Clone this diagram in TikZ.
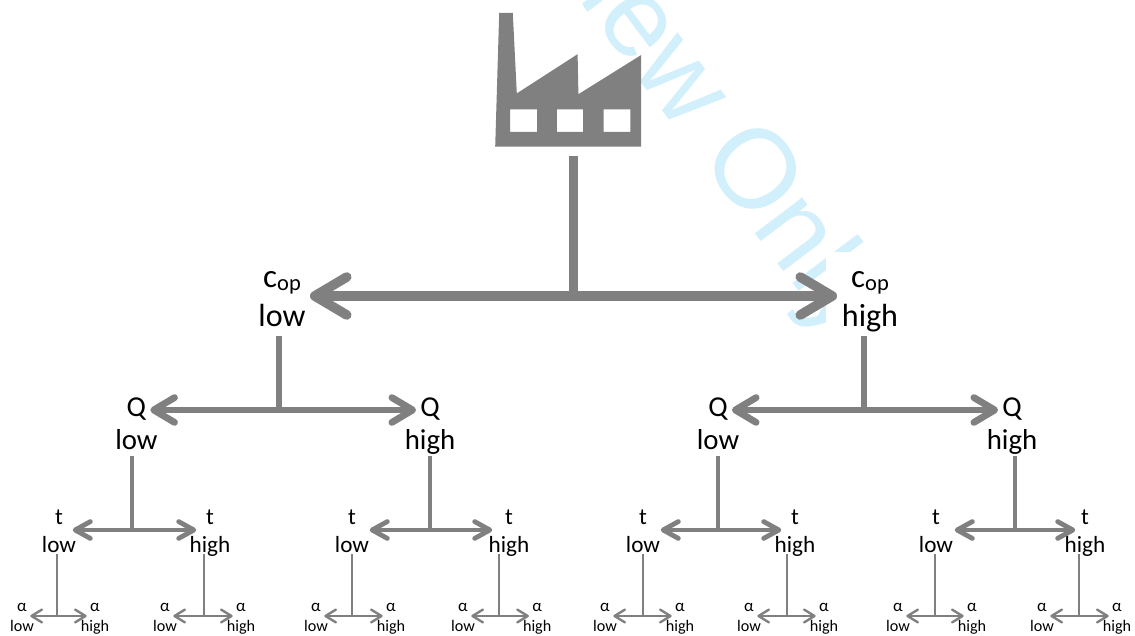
\documentclass[tikz,border=0pt]{standalone}
\usepackage{fontspec}
\setmainfont{Carlito}
\newfontfamily\markfont{Liberation Sans}
\usetikzlibrary{arrows.meta,positioning}
\definecolor{ink}{HTML}{808080}
\definecolor{stamp}{HTML}{D2EFFC}
\tikzset{
  every node/.style={text=black,inner ysep=0pt,outer sep=0pt,align=center},
  arrowa/.style={draw=ink,line width=2.4mm,-{Straight Barb[round,length=8mm,width=9.5mm]}},
  arrowb/.style={draw=ink,line width=1.7mm,-{Straight Barb[round,length=5.2mm,width=6.2mm]}},
  arrowc/.style={draw=ink,line width=1.2mm,-{Straight Barb[round,length=3.8mm,width=4.2mm]}},
  arrowd/.style={draw=ink,line width=.6mm,-{Straight Barb[round,length=2.6mm,width=3.2mm]}},
  stema/.style={draw=ink,line width=2.4mm},
  stemb/.style={draw=ink,line width=1.4mm},
  stemc/.style={draw=ink,line width=1.1mm},
  stemd/.style={draw=ink,line width=.5mm},
  copname/.style={font=\fontsize{23.5}{24}\selectfont,inner xsep=6.5pt,text height=12pt,text depth=7pt},
  copval/.style={font=\fontsize{22.8}{23}\selectfont,below=2mm of #1,text height=15pt,text depth=7pt},
  qname/.style={font=\fontsize{20.5}{21}\selectfont,inner xsep=3pt,text height=13pt,text depth=1.4pt},
  qval/.style={font=\fontsize{20.5}{21}\selectfont,below=3.2mm of #1,text height=13.5pt,text depth=4.3pt},
  tname/.style={font=\fontsize{16.5}{17}\selectfont,inner xsep=7pt,text height=10.6pt,text depth=0pt},
  tval/.style={font=\fontsize{16.5}{17}\selectfont,below=3.2mm of #1,text height=11.3pt,text depth=1pt},
  aname/.style={font=\fontsize{12}{12}\selectfont,inner xsep=2.5pt,text height=5.5pt,text depth=0pt},
  aval/.style={font=\fontsize{11.5}{12}\selectfont,below=2mm of #1,text height=8pt,text depth=0pt},
}
\newcommand{\cop}{c\raisebox{-2.5pt}{\fontsize{16}{16}\selectfont op}}

\begin{document}
\begin{tikzpicture}[x=1cm,y=1cm]
  \useasboundingbox (0,0) rectangle (28.375,15.875);
  % stamp behind everything
  \begin{scope}
    \clip (14.5,15.875) -- (17.5,15.875) -- (22,10.125) -- (21.7,9.575) -- (20.625,9.575) -- (20.625,7.5) -- (19.5,7.5) -- cycle;
    \node[rotate=-53,anchor=center,text=stamp,font=\markfont\fontsize{80}{80}\selectfont] (stampmark) at (16.77,14.05) {Review Only};
  \end{scope}

  % factory
  \fill[ink,even odd rule] (12.38,12.21) -- (12.48,15.55) -- (12.82,15.55) -- (12.92,13.54) -- (14.44,14.52) -- (14.46,13.52) -- (16.03,14.5) -- (16.03,12.21) -- cycle
    (12.75,12.58) rectangle (13.43,13.14) (13.92,12.58) rectangle (14.58,13.14) (15.09,12.58) rectangle (15.76,13.14);
  \coordinate (factory) at (14.34,11.975);

  % cost level
  \node[copname] (cl) at (7.05,8.78) {\cop};
  \node[copval=cl] (clv) {low};
  \node[copname] (ch) at (21.75,8.78) {\cop};
  \node[copval=ch] (chv) {high};
  \coordinate (jc) at (14.34,8.475);
  \draw[stema] (factory) -- ([yshift=-1.2mm]jc);
  \draw[arrowa] (jc) -- (cl.east |- jc);
  \draw[arrowa,shorten >=1.25mm] (jc) -- (ch.west |- jc);

  % Q level
  \node[qname] (ql) at (3.41,5.675) {Q};
  \node[qval=ql] (qlv) {low};
  \node[qname] (qh) at (10.75,5.675) {Q};
  \node[qval=qh] (qhv) {high};
  \node[qname] (rl) at (17.95,5.675) {Q};
  \node[qval=rl] (rlv) {low};
  \node[qname] (rh) at (25.3,5.675) {Q};
  \node[qval=rh] (rhv) {high};
  \coordinate (jq) at (6.97,5.625);
  \coordinate (jr) at (21.6,5.625);
  \draw[stemb] (jq |- clv.south) -- (jq);
  \draw[arrowb] (jq) -- (ql.east |- jq);
  \draw[arrowb] (jq) -- (qh.west |- jq);
  \draw[stemb] (jr |- chv.south) -- (jr);
  \draw[arrowb] (jr) -- (rl.east |- jr);
  \draw[arrowb] (jr) -- (rh.west |- jr);

  % t level
  \node[tname] (t1) at (1.475,2.96) {t};
  \node[tval=t1] (t1v) {low};
  \node[tname] (t2) at (5.25,2.96) {t};
  \node[tval=t2] (t2v) {high};
  \node[tname] (t3) at (8.8,2.96) {t};
  \node[tval=t3] (t3v) {low};
  \node[tname] (t4) at (12.725,2.96) {t};
  \node[tval=t4] (t4v) {high};
  \node[tname] (t5) at (16.075,2.96) {t};
  \node[tval=t5] (t5v) {low};
  \node[tname] (t6) at (19.875,2.96) {t};
  \node[tval=t6] (t6v) {high};
  \node[tname] (t7) at (23.4,2.96) {t};
  \node[tval=t7] (t7v) {low};
  \node[tname] (t8) at (27.125,2.96) {t};
  \node[tval=t8] (t8v) {high};
  \coordinate (jt1) at (3.3,2.625);
  \coordinate (jt2) at (10.75,2.625);
  \coordinate (jt3) at (17.95,2.625);
  \coordinate (jt4) at (25.375,2.625);
  \draw[stemc] (jt1 |- qlv.south) -- (jt1);
  \draw[arrowc] (jt1) -- (t1.east |- jt1);
  \draw[arrowc] (jt1) -- (t2.west |- jt1);
  \draw[stemc] (jt2 |- qhv.south) -- (jt2);
  \draw[arrowc,shorten >=1mm] (jt2) -- (t3.east |- jt2);
  \draw[arrowc,shorten >=.75mm] (jt2) -- (t4.west |- jt2);
  \draw[stemc] (jt3 |- rlv.south) -- (jt3);
  \draw[arrowc,shorten >=1mm] (jt3) -- (t5.east |- jt3);
  \draw[arrowc] (jt3) -- (t6.west |- jt3);
  \draw[stemc] (jt4 |- rhv.south) -- (jt4);
  \draw[arrowc,shorten >=1.25mm] (jt4) -- (t7.east |- jt4);
  \draw[arrowc,shorten >=-1mm] (jt4) -- (t8.west |- jt4);

  % alpha level
  \node[aname] (a1) at (0.55,0.675) {α};
  \node[aval=a1] (a1v) {low};
  \node[aname] (a2) at (2.375,0.675) {α};
  \node[aval=a2] (a2v) {high};
  \node[aname] (a3) at (4.125,0.675) {α};
  \node[aval=a3] (a3v) {low};
  \node[aname] (a4) at (6.025,0.675) {α};
  \node[aval=a4] (a4v) {high};
  \node[aname] (a5) at (7.9,0.675) {α};
  \node[aval=a5] (a5v) {low};
  \node[aname] (a6) at (9.775,0.675) {α};
  \node[aval=a6] (a6v) {high};
  \node[aname] (a7) at (11.575,0.675) {α};
  \node[aval=a7] (a7v) {low};
  \node[aname] (a8) at (13.43,0.675) {α};
  \node[aval=a8] (a8v) {high};
  \node[aname] (a9) at (15.125,0.675) {α};
  \node[aval=a9] (a9v) {low};
  \node[aname] (a10) at (17,0.675) {α};
  \node[aval=a10] (a10v) {high};
  \node[aname] (a11) at (18.725,0.675) {α};
  \node[aval=a11] (a11v) {low};
  \node[aname] (a12) at (20.6,0.675) {α};
  \node[aval=a12] (a12v) {high};
  \node[aname] (a13) at (22.45,0.675) {α};
  \node[aval=a13] (a13v) {low};
  \node[aname] (a14) at (24.3,0.675) {α};
  \node[aval=a14] (a14v) {high};
  \node[aname] (a15) at (26.05,0.675) {α};
  \node[aval=a15] (a15v) {low};
  \node[aname] (a16) at (27.925,0.675) {α};
  \node[aval=a16] (a16v) {high};
  \coordinate (ja1) at (1.43,0.475);
  \coordinate (ja2) at (5.1,0.475);
  \coordinate (ja3) at (8.8,0.475);
  \coordinate (ja4) at (12.475,0.475);
  \coordinate (ja5) at (16.075,0.475);
  \coordinate (ja6) at (19.675,0.475);
  \coordinate (ja7) at (23.375,0.475);
  \coordinate (ja8) at (26.975,0.475);
  \draw[stemd] (ja1 |- t1v.south) -- (ja1);
  \draw[arrowd] (ja1) -- (a1.east |- ja1);
  \draw[arrowd] (ja1) -- (a2.west |- ja1);
  \draw[stemd] (ja2 |- t2v.south) -- (ja2);
  \draw[arrowd] (ja2) -- (a3.east |- ja2);
  \draw[arrowd] (ja2) -- (a4.west |- ja2);
  \draw[stemd] (ja3 |- t3v.south) -- (ja3);
  \draw[arrowd] (ja3) -- (a5.east |- ja3);
  \draw[arrowd] (ja3) -- (a6.west |- ja3);
  \draw[stemd] (ja4 |- t4v.south) -- (ja4);
  \draw[arrowd] (ja4) -- (a7.east |- ja4);
  \draw[arrowd] (ja4) -- (a8.west |- ja4);
  \draw[stemd] (ja5 |- t5v.south) -- (ja5);
  \draw[arrowd] (ja5) -- (a9.east |- ja5);
  \draw[arrowd] (ja5) -- (a10.west |- ja5);
  \draw[stemd] (ja6 |- t6v.south) -- (ja6);
  \draw[arrowd] (ja6) -- (a11.east |- ja6);
  \draw[arrowd] (ja6) -- (a12.west |- ja6);
  \draw[stemd] (ja7 |- t7v.south) -- (ja7);
  \draw[arrowd] (ja7) -- (a13.east |- ja7);
  \draw[arrowd] (ja7) -- (a14.west |- ja7);
  \draw[stemd] (ja8 |- t8v.south) -- (ja8);
  \draw[arrowd] (ja8) -- (a15.east |- ja8);
  \draw[arrowd] (ja8) -- (a16.west |- ja8);
\end{tikzpicture}
\end{document}
